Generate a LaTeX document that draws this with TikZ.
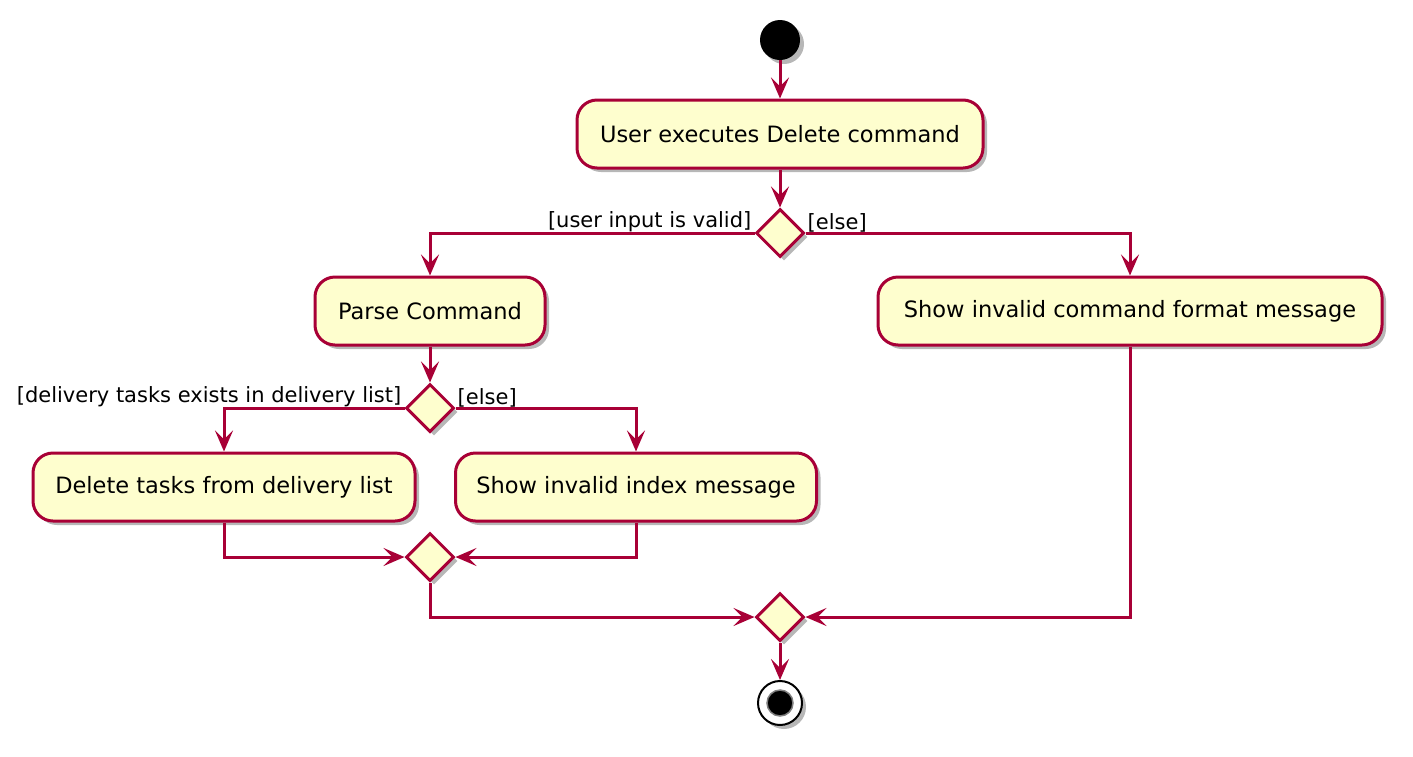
\documentclass[tikz,border=0pt]{standalone}
\usepackage{fontspec}
\setmainfont{DejaVu Sans}
\usepackage{xcolor}
\usepackage{tikz}
\usetikzlibrary{shapes.geometric,arrows.meta,shadows}
\definecolor{umlred}{HTML}{A80036}
\definecolor{umlfill}{HTML}{FEFECE}

\begin{document}
\begin{tikzpicture}[x=1pt,y=-1pt,
  umlshadow/.style={drop shadow={shadow xshift=4pt,shadow yshift=-4pt,opacity=0.4,fill=black!70}},
  action/.style={draw=umlred,fill=umlfill,line width=3pt,rounded corners=20pt,minimum height=68pt,inner sep=0pt,umlshadow,font=\fontsize{22.5}{27}\selectfont},
  branch/.style={diamond,aspect=1,draw=umlred,fill=umlfill,line width=3pt,minimum size=48pt,inner sep=0pt,umlshadow},
  guard/.style={font=\fontsize{21}{25}\selectfont,inner sep=1pt},
  flow/.style={draw=umlred,line width=3pt,-{Stealth[length=21pt,width=18pt,inset=9pt]}}]
\useasboundingbox (0,0) rectangle (1413,756);

% start and first action
\node[circle,fill=black,minimum size=40pt,inner sep=0pt,umlshadow] (start) at (780,40) {};
\node[action,minimum width=406pt] (execute) at (780,134) {User executes Delete command};
\node[branch] (valid) at (780,233) {};

% valid input side
\node[action,minimum width=230pt] (parse) at (430,311) {Parse Command};
\node[branch] (exists) at (430,408) {};
\node[action,minimum width=382pt] (deletetasks) at (224,487) {Delete tasks from delivery list};
\node[action,minimum width=361pt] (badindex) at (636,487) {Show invalid index message};
\node[branch] (mergeidx) at (430,557) {};

% invalid input side
\node[action,minimum width=504pt] (badformat) at (1130,311) {Show invalid command format message};
\node[branch] (mergeall) at (780,617) {};

% stop
\node[circle,draw=black,fill=white,line width=2pt,minimum size=44pt,inner sep=0pt,umlshadow] (stop) at (780,703) {};
\node[circle,fill=black,draw=black!50,line width=1.5pt,minimum size=26pt,inner sep=0pt] (stopdot) at (stop) {};

\draw[flow] (start) -- (execute);
\draw[flow] (execute) -- (valid);
\draw[flow] (valid.west) -| (parse.north);
\draw[flow] (valid.east) -| (badformat.north);
\node[guard,anchor=south east] (validlbl) at ([xshift=-2pt]valid.west) {[user input is valid]};
\node[guard,anchor=south west] (elselbl) at ([xshift=1pt]valid.east) {[else]};

\draw[flow] (parse) -- (exists);
\draw[flow] (exists.west) -| (deletetasks.north);
\draw[flow] (exists.east) -| (badindex.north);
\node[guard,anchor=south east] (existslbl) at ([xshift=-2pt]exists.west) {[delivery tasks exists in delivery list]};
\node[guard,anchor=south west] (elselbl2) at ([xshift=1pt]exists.east) {[else]};

\draw[flow] (deletetasks.south) |- (mergeidx.west);
\draw[flow] (badindex.south) |- (mergeidx.east);
\draw[flow] (mergeidx.south) |- (mergeall.west);
\draw[flow] (badformat.south) |- (mergeall.east);
\draw[flow] (mergeall) -- (stop);
\end{tikzpicture}
\end{document}
